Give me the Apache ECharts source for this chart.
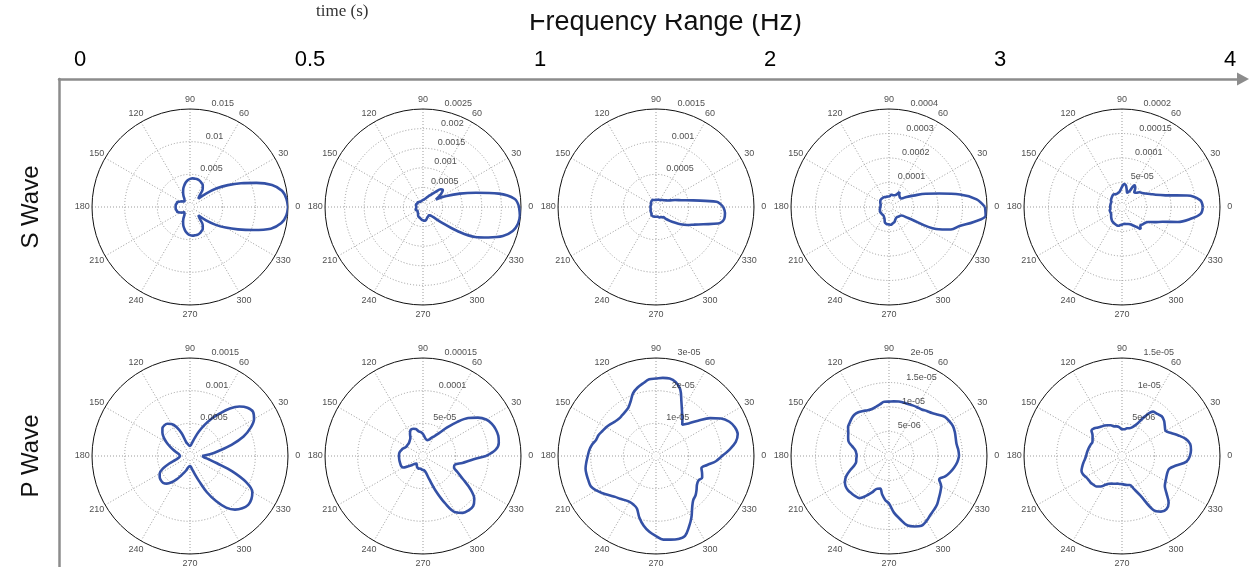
<!DOCTYPE html>
<html><head><meta charset="utf-8">
<script src="https://cdn.jsdelivr.net/npm/echarts@6/dist/echarts.min.js"></script>
<style>html,body{margin:0;padding:0;background:#fff;}#c{width:1249px;height:567px;}</style>
</head><body><div id="c"></div>
<script>
// ---------- data ----------
const freqTicks = ['0', '0.5', '1', '2', '3', '4'];
const freqTickPos = [0, 1, 2, 3, 4, 5];
const rowNames = ['S Wave', 'P Wave'];
const angleTicks = [0, 30, 60, 90, 120, 150, 180, 210, 240, 270, 300, 330];
const angles = [0,5,10,15,20,25,30,35,40,45,50,55,60,65,70,75,80,85,90,95,100,105,110,115,
  120,125,130,135,140,145,150,155,160,165,170,175,180,185,190,195,200,205,210,215,220,225,230,235,
  240,245,250,255,260,265,270,275,280,285,290,295,300,305,310,315,320,325,330,335,340,345,350,355];

// radial tick labels (outer ring = last label)
const sRadialLabels = [
  ['0.005', '0.01', '0.015'],
  ['0.0005', '0.001', '0.0015', '0.002', '0.0025'],
  ['0.0005', '0.001', '0.0015'],
  ['0.0001', '0.0002', '0.0003', '0.0004'],
  ['5e-05', '0.0001', '0.00015', '0.0002']
];
const pRadialLabels = [
  ['0.0005', '0.001', '0.0015'],
  ['5e-05', '0.0001', '0.00015'],
  ['1e-05', '2e-05', '3e-05'],
  ['5e-06', '1e-05', '1.5e-05', '2e-05'],
  ['5e-06', '1e-05', '1.5e-05']
];

// S wave radiation patterns (radius at each angle)
const sWave1 = [0.0150,0.0148,0.0143,0.0130,0.0108,0.0086,0.0067,0.0050,0.0032,0.0018,0.0023,0.0034,
  0.0039,0.0041,0.0043,0.0044,0.0044,0.0044,0.0043,0.0041,0.0038,0.0034,0.0030,0.0025,
  0.0020,0.0015,0.0013,0.0012,0.0012,0.0015,0.0017,0.0019,0.0021,0.0021,0.0022,0.0022,
  0.0022,0.0022,0.0022,0.0021,0.0021,0.0019,0.0017,0.0015,0.0012,0.0012,0.0013,0.0015,
  0.0020,0.0025,0.0030,0.0034,0.0038,0.0041,0.0043,0.0044,0.0044,0.0044,0.0043,0.0041,
  0.0039,0.0034,0.0023,0.0018,0.0032,0.0047,0.0063,0.0081,0.0103,0.0128,0.0142,0.0148];
const sWave2 = [0.00245,0.00235,0.00196,0.00140,0.00100,0.00066,0.00038,0.00055,0.00066,0.00064,0.00050,0.00040,
  0.00034,0.00029,0.00025,0.00022,0.00020,0.00019,0.00018,0.00017,0.00017,0.00016,0.00015,0.00015,
  0.00015,0.00016,0.00016,0.00017,0.00018,0.00017,0.00017,0.00018,0.00019,0.00019,0.00018,0.00017,
  0.00017,0.00017,0.00018,0.00019,0.00020,0.00019,0.00018,0.00017,0.00018,0.00019,0.00020,0.00022,
  0.00025,0.00027,0.00028,0.00029,0.00031,0.00033,0.00034,0.00035,0.00035,0.00033,0.00030,0.00028,
  0.00027,0.00026,0.00028,0.00036,0.00061,0.00107,0.00153,0.00184,0.00217,0.00237,0.00246,0.00248];
const sWave3 = [0.00103,0.00093,0.00058,0.00040,0.00031,0.00024,0.00020,0.00018,0.00016,0.00015,0.00014,0.00013,
  0.00012,0.00012,0.00012,0.000115,0.000115,0.00011,0.00011,0.00011,0.00011,0.00011,0.000115,0.00012,
  0.00012,0.000115,0.00011,0.00011,0.00010,0.00009,0.00009,0.000085,0.000085,0.000085,0.000085,0.000085,
  0.000085,0.000085,0.000085,0.000085,0.00009,0.00009,0.00009,0.00010,0.00010,0.00011,0.000115,0.00012,
  0.00014,0.000145,0.00015,0.00015,0.00015,0.00015,0.00015,0.00015,0.00015,0.00016,0.00017,0.00017,
  0.00018,0.00019,0.00024,0.00030,0.00037,0.00046,0.00055,0.00064,0.00077,0.00098,0.00106,0.00106];
const sWave4 = [0.000392,0.000359,0.000294,0.000212,0.000159,0.000110,0.000082,0.000061,0.000059,0.000061,0.000065,0.000075,
  0.000057,0.000053,0.000051,0.000051,0.000051,0.000045,0.000043,0.000043,0.000043,0.000043,0.000043,0.000045,
  0.000045,0.000045,0.000045,0.000045,0.000045,0.000043,0.000041,0.000039,0.000037,0.000035,0.000035,0.000035,
  0.000035,0.000037,0.000037,0.000039,0.000039,0.000041,0.000041,0.000041,0.000041,0.000041,0.000041,0.000041,
  0.000043,0.000047,0.000053,0.000065,0.000069,0.000071,0.000071,0.000073,0.000071,0.000067,0.000065,0.000059,
  0.000055,0.000053,0.000053,0.000055,0.000057,0.000061,0.000090,0.000212,0.000269,0.000298,0.000351,0.000396];
const sWave5 = [0.000165,0.000160,0.000135,0.000092,0.000073,0.000063,0.000055,0.000050,0.000047,0.000041,0.000039,0.000047,
  0.000051,0.000035,0.000031,0.000037,0.000045,0.000047,0.000041,0.000035,0.000031,0.000030,0.000029,0.000029,
  0.000030,0.000031,0.000030,0.000029,0.000028,0.000027,0.000026,0.000024,0.000024,0.000024,0.000024,0.000024,
  0.000024,0.000024,0.000024,0.000026,0.000026,0.000026,0.000026,0.000027,0.000029,0.000031,0.000033,0.000035,
  0.000036,0.000037,0.000038,0.000039,0.000039,0.000037,0.000036,0.000035,0.000035,0.000036,0.000037,0.000039,
  0.000043,0.000049,0.000059,0.000053,0.000055,0.000057,0.000061,0.000073,0.000088,0.000118,0.000141,0.000161];

// P wave radiation patterns
const pWave1 = [0.000184,0.000306,0.000444,0.000658,0.000872,0.001025,0.001132,0.001178,0.001148,0.001071,0.000949,0.000796,
  0.000658,0.000520,0.000398,0.000291,0.000214,0.000168,0.000153,0.000161,0.000184,0.000214,0.000367,0.000490,
  0.000566,0.000604,0.000612,0.000597,0.000551,0.000490,0.000413,0.000337,0.000268,0.000214,0.000176,0.000161,
  0.000153,0.000161,0.000184,0.000230,0.000337,0.000459,0.000536,0.000566,0.000581,0.000581,0.000551,0.000490,
  0.000413,0.000337,0.000275,0.000230,0.000184,0.000161,0.000153,0.000168,0.000214,0.000291,0.000413,0.000612,
  0.000796,0.000964,0.001071,0.001132,0.001163,0.001148,0.001102,0.000949,0.000689,0.000428,0.000291,0.000214];
const pWave2 = [9.64e-5,1.117e-4,1.178e-4,1.193e-4,1.186e-4,1.163e-4,1.117e-4,1.025e-4,9.03e-5,7.34e-5,5.66e-5,4.28e-5,
  3.52e-5,3.06e-5,2.68e-5,2.52e-5,2.60e-5,2.91e-5,3.37e-5,3.67e-5,3.83e-5,4.28e-5,4.44e-5,4.44e-5,
  3.98e-5,3.37e-5,3.14e-5,2.98e-5,2.91e-5,2.91e-5,2.91e-5,3.06e-5,3.29e-5,3.44e-5,3.60e-5,3.67e-5,
  3.67e-5,3.67e-5,3.67e-5,3.67e-5,3.67e-5,3.67e-5,3.52e-5,2.75e-5,2.14e-5,1.68e-5,1.53e-5,1.68e-5,
  1.84e-5,1.99e-5,2.07e-5,1.99e-5,1.99e-5,2.07e-5,2.14e-5,2.22e-5,2.60e-5,3.67e-5,5.66e-5,7.96e-5,
  9.95e-5,1.063e-4,1.086e-4,1.086e-4,1.025e-4,8.87e-5,7.04e-5,5.81e-5,5.05e-5,5.05e-5,6.12e-5,7.34e-5];
const pWave3 = [2.02e-5,2.26e-5,2.48e-5,2.59e-5,2.57e-5,2.48e-5,2.30e-5,2.02e-5,1.68e-5,1.41e-5,1.25e-5,1.41e-5,
  1.59e-5,1.84e-5,2.17e-5,2.34e-5,2.41e-5,2.40e-5,2.37e-5,2.36e-5,2.26e-5,2.17e-5,2.05e-5,1.84e-5,
  1.70e-5,1.65e-5,1.62e-5,1.61e-5,1.64e-5,1.70e-5,1.76e-5,1.81e-5,1.87e-5,1.90e-5,1.99e-5,2.05e-5,
  2.09e-5,2.14e-5,2.19e-5,2.20e-5,2.20e-5,2.20e-5,2.11e-5,1.99e-5,1.87e-5,1.77e-5,1.71e-5,1.65e-5,
  1.62e-5,1.64e-5,1.71e-5,1.96e-5,2.17e-5,2.33e-5,2.45e-5,2.57e-5,2.60e-5,2.63e-5,2.60e-5,2.39e-5,
  2.17e-5,1.93e-5,1.77e-5,1.71e-5,1.62e-5,1.53e-5,1.50e-5,1.56e-5,1.50e-5,1.44e-5,1.59e-5,1.84e-5];
const pWave4 = [1.43e-5,1.42e-5,1.40e-5,1.41e-5,1.43e-5,1.44e-5,1.42e-5,1.39e-5,1.31e-5,1.24e-5,1.20e-5,1.16e-5,
  1.15e-5,1.14e-5,1.13e-5,1.13e-5,1.13e-5,1.12e-5,1.11e-5,1.11e-5,1.07e-5,1.04e-5,1.02e-5,1.03e-5,
  1.06e-5,1.09e-5,1.10e-5,1.08e-5,1.05e-5,1.02e-5,9.6e-6,9.2e-6,8.8e-6,7.8e-6,7.0e-6,6.7e-6,
  6.6e-6,6.7e-6,6.8e-6,7.3e-6,8.4e-6,9.6e-6,1.04e-5,1.08e-5,1.09e-5,1.08e-5,1.07e-5,1.05e-5,
  9.4e-6,8.2e-6,7.1e-6,6.9e-6,8.0e-6,9.0e-6,9.7e-6,1.16e-5,1.31e-5,1.47e-5,1.53e-5,1.57e-5,
  1.53e-5,1.47e-5,1.43e-5,1.39e-5,1.33e-5,1.28e-5,1.23e-5,1.13e-5,1.22e-5,1.29e-5,1.35e-5,1.40e-5];
const pWave5 = [1.04e-5,1.06e-5,1.06e-5,1.01e-5,9.2e-6,8.3e-6,7.7e-6,8.0e-6,8.4e-6,8.6e-6,8.4e-6,8.3e-6,
  7.0e-6,5.4e-6,4.7e-6,4.4e-6,4.3e-6,4.1e-6,4.1e-6,4.4e-6,4.6e-6,4.7e-6,5.0e-6,5.2e-6,
  5.4e-6,5.5e-6,5.7e-6,6.0e-6,6.1e-6,5.5e-6,5.2e-6,5.0e-6,5.1e-6,5.2e-6,5.3e-6,5.4e-6,
  5.5e-6,5.7e-6,6.0e-6,6.3e-6,6.6e-6,6.6e-6,6.4e-6,6.3e-6,6.3e-6,6.2e-6,6.1e-6,5.7e-6,
  5.1e-6,4.7e-6,4.5e-6,4.4e-6,4.3e-6,4.3e-6,4.3e-6,4.4e-6,4.5e-6,4.6e-6,5.4e-6,6.7e-6,
  9.5e-6,1.04e-5,1.06e-5,1.01e-5,8.9e-6,8.0e-6,7.7e-6,7.5e-6,7.4e-6,7.5e-6,8.4e-6,9.9e-6];

// ---------- layout / style ----------
const colCenters = [190, 423, 656, 889, 1122];
const rowCenters = [207, 456];
const R = 98;
const curveColor = '#3451a6';
const gridColor = '#9b9b9b';
const textColor = '#222';
const axisGray = '#8c8c8c';
const smallFont = '"Liberation Sans", Arial, Helvetica, sans-serif';
const bigFont = '"Liberation Sans", Arial, Helvetica, sans-serif';

const plots = [
  [sWave1, sRadialLabels[0]], [sWave2, sRadialLabels[1]], [sWave3, sRadialLabels[2]], [sWave4, sRadialLabels[3]], [sWave5, sRadialLabels[4]],
  [pWave1, pRadialLabels[0]], [pWave2, pRadialLabels[1]], [pWave3, pRadialLabels[2]], [pWave4, pRadialLabels[3]], [pWave5, pRadialLabels[4]]
];

const polar = [], angleAxis = [], radiusAxis = [], series = [];
plots.forEach(([vals, labels], i) => {
  const row = Math.floor(i / 5), col = i % 5;
  const ticks = labels.map(Number);
  const rMax = ticks[ticks.length - 1];
  polar.push({ center: [colCenters[col], rowCenters[row]], radius: R });
  angleAxis.push({
    polarIndex: i, type: 'value', min: 0, max: 360, interval: 30, startAngle: 0, clockwise: false,
    axisLine: { show: true, lineStyle: { color: '#111', width: 1 } },
    axisTick: { show: false }, axisLabel: { show: false },
    splitLine: { show: true, lineStyle: { color: gridColor, width: 1, type: [1, 2] } }
  });
  const splitColors = [gridColor].concat(ticks.map(() => gridColor));
  splitColors[splitColors.length - 1] = 'rgba(0,0,0,0)';
  radiusAxis.push({
    polarIndex: i, type: 'value', min: 0, max: rMax, interval: ticks[0],
    axisLine: { show: false }, axisTick: { show: false }, axisLabel: { show: false },
    splitLine: { show: true, lineStyle: { color: splitColors, width: 1, type: [1, 2] } }
  });
  const data = angles.map((a, j) => [vals[j], a]);
  data.push([vals[0], 360]);
  series.push({
    type: 'line', coordinateSystem: 'polar', polarIndex: i, data, smooth: 0.35,
    symbol: 'none', lineStyle: { color: curveColor, width: 2.6 }, z: 5, silent: true
  });
  series.push({
    type: 'scatter', coordinateSystem: 'polar', polarIndex: i, clip: false, silent: true, z: 6,
    data: ticks.map(t => [t, 80]), symbolSize: 1, itemStyle: { color: 'rgba(0,0,0,0)' },
    label: { show: true, position: 'right', distance: 4, offset: [0, -6.5],
      formatter: p => labels[p.dataIndex], fontSize: 9, color: textColor, fontFamily: smallFont }
  });
  series.push({
    type: 'scatter', coordinateSystem: 'polar', polarIndex: i, clip: false, silent: true, z: 6,
    data: angleTicks.map(a => [rMax * 1.1, a]), symbolSize: 1, itemStyle: { color: 'rgba(0,0,0,0)' },
    label: { show: true, position: 'inside', formatter: p => String(angleTicks[p.dataIndex]),
      fontSize: 9, color: textColor, fontFamily: smallFont }
  });
  series.push({
    type: 'scatter', coordinateSystem: 'polar', polarIndex: i, silent: true, z: 4,
    data: [[0, 0]], symbol: 'emptyCircle', symbolSize: 5,
    itemStyle: { color: '#fff', borderColor: '#666', borderWidth: 0.8 }
  });
});

const option = {
  animation: false,
  backgroundColor: '#fff',
  title: [
    { text: 'Frequency Range (Hz)', left: 524, top: 4,
      textStyle: { fontSize: 27, fontWeight: 'normal', color: '#111', fontFamily: bigFont } },
    { text: 'time (s)', left: 311, top: -2,
      textStyle: { fontSize: 17, fontWeight: 'normal', color: '#333', fontFamily: '"Liberation Serif", "Times New Roman", serif' } }
  ],
  grid: [{ left: 59, right: 12, top: 79, bottom: 0, containLabel: false }],
  xAxis: [{
    type: 'value', position: 'top', min: -0.0913, max: 5.0304,
    axisLine: { show: true, onZero: false, lineStyle: { color: axisGray, width: 2.5 },
      symbol: ['none', 'triangle'], symbolSize: [13, 12], symbolOffset: [0, 6] },
    axisTick: { show: false }, splitLine: { show: false },
    axisLabel: { show: true, customValues: freqTickPos, formatter: v => freqTicks[Math.round(v)],
      fontSize: 22, color: '#000', margin: 8, fontFamily: bigFont }
  }],
  yAxis: [{
    type: 'value', min: 0, max: 1, inverse: true,
    axisLine: { show: true, onZero: false, lineStyle: { color: axisGray, width: 2.5 } },
    axisTick: { show: false }, axisLabel: { show: false }, splitLine: { show: false }
  }],
  graphic: rowNames.map((name, k) => ({
    type: 'text', x: 31, y: rowCenters[k], rotation: Math.PI / 2,
    style: { text: name, fontSize: 24, fontFamily: bigFont, fill: '#111', align: 'center', verticalAlign: 'middle' }
  })).concat([{
    type: 'rect', z: 100, shape: { x: 505, y: 0, width: 310, height: 14 }, style: { fill: '#fff' }
  }]),
  polar, angleAxis, radiusAxis, series
};
const chart = echarts.init(document.getElementById('c'));
chart.setOption(option);
</script></body></html>
